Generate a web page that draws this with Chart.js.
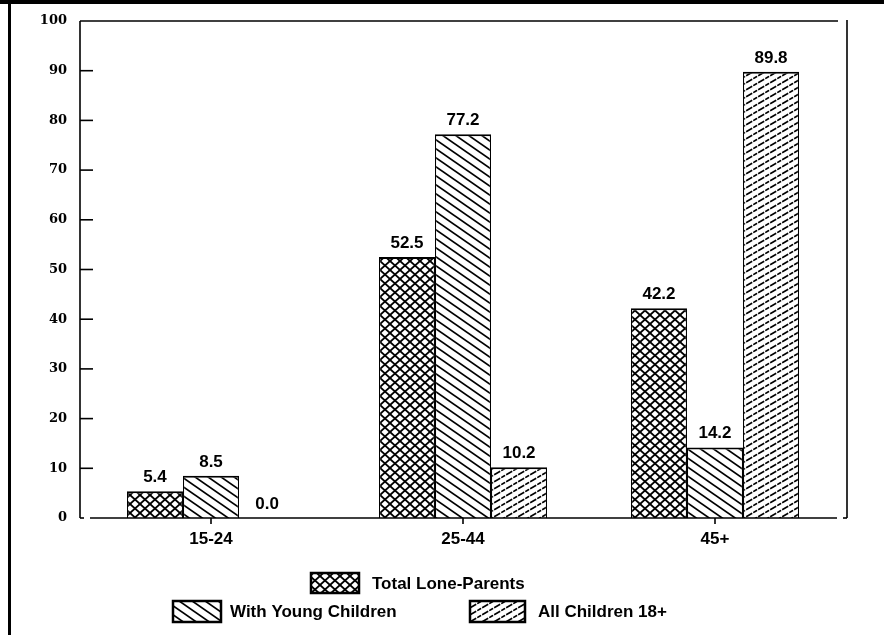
<!DOCTYPE html>
<html><head><meta charset="utf-8">
<script src="https://cdn.jsdelivr.net/npm/chart.js@4/dist/chart.umd.min.js"></script>
<style>html,body{margin:0;padding:0;background:#fff;}canvas{display:block;}</style>
</head><body>
<canvas id="c" width="884" height="635"></canvas>
<script>
const categories = ['15-24', '25-44', '45+'];
const seriesNames = ['Total Lone-Parents', 'With Young Children', 'All Children 18+'];
const totalLoneParents = [5.4, 52.5, 42.2];
const withYoungChildren = [8.5, 77.2, 14.2];
const allChildren18 = [0.0, 10.2, 89.8];
const yTickValues = [0, 10, 20, 30, 40, 50, 60, 70, 80, 90, 100];

const SANS = '"Liberation Sans", Arial, Helvetica, sans-serif';
const SERIF = '"DejaVu Serif", serif';

const canvas = document.getElementById('c');
const ctx = canvas.getContext('2d');

function makeTile(w, h, draw) {
  const t = document.createElement('canvas');
  t.width = w; t.height = h;
  const g = t.getContext('2d');
  g.fillStyle = '#fff'; g.fillRect(0, 0, w, h);
  g.strokeStyle = '#000';
  draw(g, w, h);
  return t;
}
function backLines(g, w, h) { // "\" lines
  for (let k = -2; k <= 2; k++) {
    g.beginPath(); g.moveTo(-w, (k - 1) * h); g.lineTo(2 * w, (k + 2) * h); g.stroke();
  }
}
function fwdLines(g, w, h) { // "/" lines
  for (let k = -2; k <= 3; k++) {
    g.beginPath(); g.moveTo(-w, (k + 1) * h); g.lineTo(2 * w, (k - 2) * h); g.stroke();
  }
}
const crossTile = makeTile(10, 9, (g, w, h) => { g.lineWidth = 1.8; backLines(g, w, h); fwdLines(g, w, h); });
const backTile = makeTile(13, 9, (g, w, h) => { g.lineWidth = 1.7; backLines(g, w, h); });
const fwdTile = makeTile(12, 7, (g, w, h) => { g.lineWidth = 1.6; g.setLineDash([7, 1.2]); fwdLines(g, w, h); });
const patterns = [
  ctx.createPattern(crossTile, 'repeat'),
  ctx.createPattern(backTile, 'repeat'),
  ctx.createPattern(fwdTile, 'repeat')
];

function seg(c, x1, y1, x2, y2) { c.beginPath(); c.moveTo(x1, y1); c.lineTo(x2, y2); c.stroke(); }

const decor = {
  id: 'decor',
  beforeDraw(chart) {
    const c = chart.ctx;
    c.save();
    c.fillStyle = '#fff'; c.fillRect(0, 0, chart.width, chart.height);
    c.fillStyle = '#000';
    c.fillRect(0, 0, chart.width, 4);
    c.fillRect(8, 0, 3, chart.height);
    c.restore();
  },
  afterDatasetsDraw(chart) {
    const c = chart.ctx, a = chart.chartArea, xs = chart.scales.x, ys = chart.scales.y;
    c.save();
    c.strokeStyle = '#000'; c.lineWidth = 1.6; c.lineCap = 'butt';
    const y0 = ys.getPixelForValue(0);
    const yTop = ys.getPixelForValue(100);
    const ax = a.left - 5;
    seg(c, ax, yTop, ax, y0);
    seg(c, ax, yTop, a.right - 3, yTop);
    seg(c, a.right + 6, yTop - 1, a.right + 6, y0);
    seg(c, a.right + 6, y0, a.right + 2, y0);
    seg(c, ax, y0, ax + 4, y0);
    seg(c, a.left + 5, y0, a.right - 4, y0);
    yTickValues.forEach(v => { if (v > 0 && v < 100) { const py = ys.getPixelForValue(v); seg(c, ax, py, ax + 13, py); } });
    categories.forEach((_, i) => { const px = xs.getPixelForValue(i); seg(c, px, y0, px, y0 + 6); });

    // data labels
    c.fillStyle = '#000';
    c.font = 'bold 17px ' + SANS;
    c.textAlign = 'center'; c.textBaseline = 'alphabetic';
    chart.data.datasets.forEach((ds, di) => {
      const meta = chart.getDatasetMeta(di);
      meta.data.forEach((el, i) => {
        c.fillText(ds.data[i].toFixed(1), el.x, el.y - 9);
      });
    });

    // legend
    const items = [
      { i: 0, bx: 311, by: 573, bw: 48, bh: 20, tx: 372 },
      { i: 1, bx: 173, by: 601, bw: 48, bh: 21, tx: 230 },
      { i: 2, bx: 470, by: 601, bw: 55, bh: 21, tx: 538 }
    ];
    c.textAlign = 'left'; c.textBaseline = 'middle';
    items.forEach(it => {
      c.fillStyle = patterns[it.i];
      c.fillRect(it.bx, it.by, it.bw, it.bh);
      c.lineWidth = 2.5; c.strokeStyle = '#000';
      c.strokeRect(it.bx, it.by, it.bw, it.bh);
      c.fillStyle = '#000';
      c.fillText(chart.data.datasets[it.i].label, it.tx, it.by + it.bh / 2 + 1);
    });
    c.restore();
  }
};

const seriesValues = [totalLoneParents, withYoungChildren, allChildren18];
new Chart(ctx, {
  type: 'bar',
  data: {
    labels: categories,
    datasets: seriesNames.map((name, i) => ({
      label: name,
      data: seriesValues[i],
      backgroundColor: patterns[i],
      borderColor: '#000',
      borderWidth: { top: 2, left: 1.2, right: 1.2, bottom: 0 },
      borderSkipped: false,
      categoryPercentage: 0.667,
      barPercentage: 1.0
    }))
  },
  options: {
    responsive: false,
    animation: false,
    devicePixelRatio: 1,
    layout: { padding: { top: 21, right: 43, left: 0, bottom: 0 } },
    plugins: { legend: { display: false }, tooltip: { enabled: false }, title: { display: false } },
    scales: {
      x: {
        grid: { display: false, drawTicks: false },
        border: { display: false },
        ticks: { color: '#000', font: { family: SANS, size: 17, weight: 'bold' }, padding: 11 },
        afterFit(s) { s.height = 117; }
      },
      y: {
        min: 0, max: 100,
        grid: { display: false, drawTicks: false },
        border: { display: false },
        ticks: { stepSize: 10, color: '#000', font: { family: SERIF, size: 13, weight: 'bold' }, padding: 18 },
        afterFit(s) { s.width = 85; s.paddingTop = 0; s.paddingBottom = 0; }
      }
    }
  },
  plugins: [decor]
});
</script>
</body></html>
